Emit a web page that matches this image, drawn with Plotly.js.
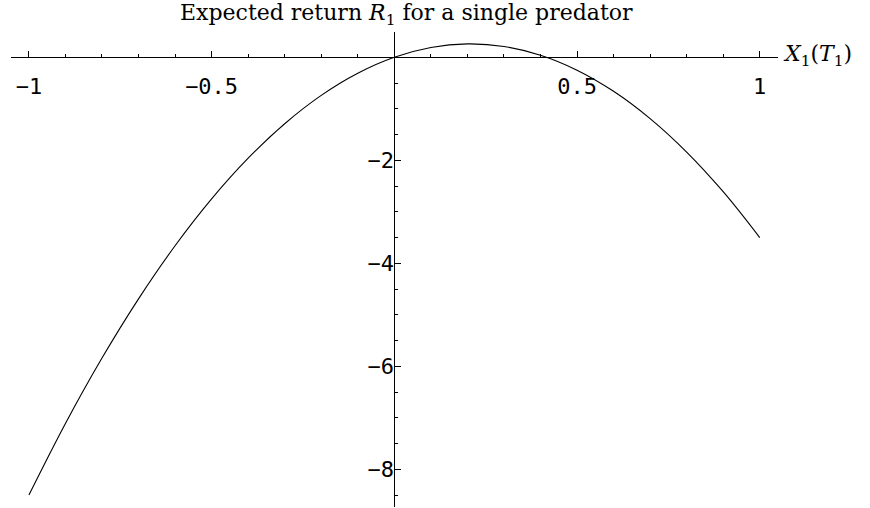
<!DOCTYPE html>
<html>
<head>
<meta charset="utf-8">
<script src="https://cdn.plot.ly/plotly-3.0.1.min.js"></script>
<style>
html,body{margin:0;padding:0;background:#fff;}
#chart{width:870px;height:508px;}
</style>
</head>
<body>
<div id="chart"></div>
<script>
// Data
var xValues = [-1, -0.9, -0.8, -0.7, -0.6, -0.5, -0.4, -0.3, -0.2, -0.1, 0, 0.1, 0.2, 0.3, 0.4, 0.5, 0.6, 0.7, 0.8, 0.9, 1];
var returnValues = [-8.5, -7.11, -5.84, -4.69, -3.66, -2.75, -1.96, -1.29, -0.74, -0.31, 0, 0.19, 0.26, 0.21, 0.04, -0.25, -0.66, -1.19, -1.84, -2.61, -3.5];

var xTickVals = [-1, -0.5, 0.5, 1];
var xTickText = ["\u22121", "\u22120.5", "0.5", "1"];
var yTickVals = [-8, -6, -4, -2];
var yTickText = ["\u22128", "\u22126", "\u22124", "\u22122"];

var titleText = "Expected return <i>R</i><sub>1</sub> for a single predator";
var xTitleText = "<i>X</i><sub>1</sub>(<i>T</i><sub>1</sub>)";

var xRange = [-1.049, 1.05];
var yRange = [-8.732, 0.491];

var tickFont = {family: "DejaVu Sans Mono", size: 22, color: "#000"};
var serifFont = {family: "DejaVu Serif", size: 22, color: "#000"};

var trace = {
  x: xValues,
  y: returnValues,
  type: "scatter",
  mode: "lines",
  line: {color: "#000", width: 1.1, shape: "spline", smoothing: 1},
  hoverinfo: "skip"
};

var layout = {
  width: 870,
  height: 508,
  margin: {l: 11, r: 92, t: 32, b: 1, pad: 0},
  paper_bgcolor: "#fff",
  plot_bgcolor: "#fff",
  showlegend: false,
  xaxis: {
    range: xRange,
    anchor: "free",
    position: (0 - yRange[0]) / (yRange[1] - yRange[0]),
    showline: true, linecolor: "#000", linewidth: 1,
    showgrid: false, zeroline: false,
    tickmode: "array", tickvals: xTickVals, ticktext: xTickText,
    ticks: "inside", ticklen: 6, tickwidth: 1, tickcolor: "#000",
    tickfont: tickFont,
    ticklabelstandoff: 9,
    minor: {tickmode: "linear", tick0: 0, dtick: 0.1, ticks: "inside", ticklen: 3, tickwidth: 1, tickcolor: "#000", showgrid: false}
  },
  yaxis: {
    range: yRange,
    anchor: "free",
    position: (0 - xRange[0]) / (xRange[1] - xRange[0]),
    showline: true, linecolor: "#000", linewidth: 1,
    showgrid: false, zeroline: false,
    tickmode: "array", tickvals: yTickVals, ticktext: yTickText,
    ticks: "inside", ticklen: 6, tickwidth: 1, tickcolor: "#000",
    tickfont: tickFont,
    ticklabelstandoff: -4,
    minor: {tickmode: "linear", tick0: 0, dtick: 0.5, ticks: "inside", ticklen: 3, tickwidth: 1, tickcolor: "#000", showgrid: false}
  },
  annotations: [
    {
      text: titleText, xref: "paper", yref: "paper",
      x: (406 - 11) / 767, y: 1 + (32 - 15) / 475,
      xanchor: "center", yanchor: "middle", showarrow: false,
      font: serifFont
    },
    {
      text: xTitleText, xref: "paper", yref: "paper",
      x: (781 - 11) / 767, y: 1 - (56 - 32) / 475,
      xanchor: "left", yanchor: "middle", showarrow: false,
      font: serifFont
    }
  ]
};

Plotly.newPlot("chart", [trace], layout, {staticPlot: true, displayModeBar: false});
</script>
</body>
</html>
